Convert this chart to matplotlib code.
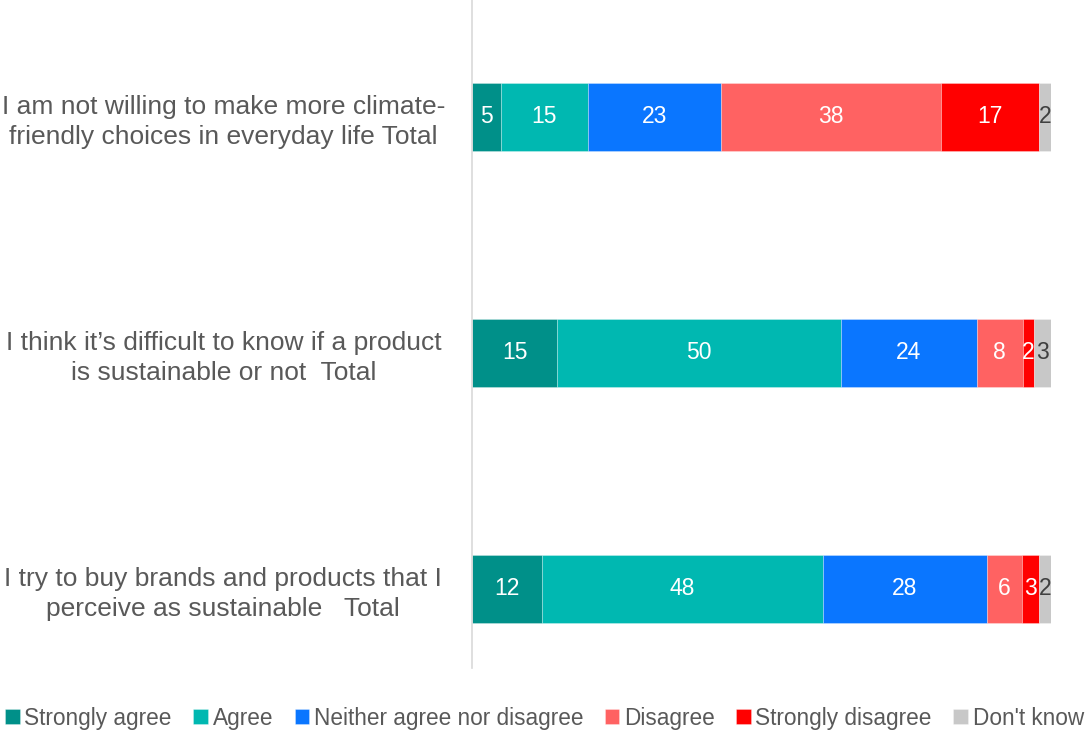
import matplotlib.pyplot as plt
import numpy as np

plt.rcParams['font.family'] = ['Liberation Sans', 'DejaVu Sans']

statements = [
    "I am not willing to make more climate-\nfriendly choices in everyday life Total",
    "I think it\u2019s difficult to know if a product\nis sustainable or not  Total",
    "I try to buy brands and products that I\nperceive as sustainable   Total",
]
answers = ["Strongly agree", "Agree", "Neither agree nor disagree",
           "Disagree", "Strongly disagree", "Don't know"]

strongly_agree = [5, 15, 12]
agree = [15, 50, 48]
neither = [23, 24, 28]
disagree = [38, 8, 6]
strongly_disagree = [17, 2, 3]
dont_know = [2, 3, 2]

series = [strongly_agree, agree, neither, disagree, strongly_disagree, dont_know]
colors = ["#009089", "#00B8B1", "#0A76FF", "#FF6262", "#FF0000", "#C8C8C8"]
label_colors = ["white", "white", "white", "white", "white", "#404040"]

# 100% stacked: each row is scaled by its own total
totals = np.sum(np.array(series, dtype=float), axis=0)

fig = plt.figure(figsize=(10.89, 7.35), dpi=100)
ax = fig.add_axes([0.4334, 0.0912, 0.5316, 0.9088])

y = np.arange(len(statements))
left = np.zeros(len(statements))
handles = []
for vals, col, tcol, name in zip(series, colors, label_colors, answers):
    vals = np.array(vals, dtype=float)
    widths = vals / totals * 100
    bars = ax.barh(y, widths, left=left, height=0.29, color=col,
                   edgecolor="#FFFFFF80", linewidth=0.4, label=name)
    handles.append(bars)
    for xi, yi, w, v in zip(left, y, widths, vals):
        ax.text(xi + w / 2, yi, f"{v:g}", ha="center", va="center",
                color=tcol, fontsize=16.5)
    left += widths

ax.set_xlim(0, 100)
ax.set_ylim(2 + 79 / 236, -117 / 236)
ax.set_yticks(y)
ax.set_yticklabels(statements, fontsize=19, color="#595959",
                   ha="center", linespacing=1.3)
ax.tick_params(axis="y", length=0, pad=179)
ax.set_xticks([])
for side in ["top", "right", "bottom"]:
    ax.spines[side].set_visible(False)
ax.spines["left"].set_color("#D9D9D9")
ax.spines["left"].set_linewidth(1.2)

fig.legend(handles=handles, labels=answers, loc="center",
           bbox_to_anchor=(0.5, 0.023), ncol=6, frameon=False,
           fontsize=16.3, handlelength=0.65, handleheight=0.65,
           handletextpad=0.2, columnspacing=0.95, labelcolor="#595959")

fig.savefig("out.png", dpi=100)
